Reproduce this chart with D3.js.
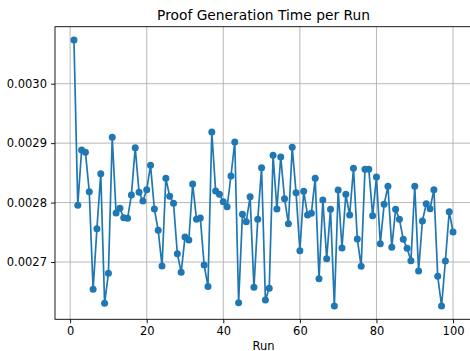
<!DOCTYPE html>
<html>
<head>
<meta charset="utf-8">
<script src="https://cdn.jsdelivr.net/npm/d3@7"></script>
<style>
  body { margin: 0; background: #fff; }
  svg { display: block; font-family: "DejaVu Sans", sans-serif; }
</style>
</head>
<body>
<div id="chart"></div>
<script>
// proof generation time (seconds) for runs 1..100
const runs = d3.range(1, 101);
const proofTimes = [
  0.0030735, 0.0027953, 0.0028884, 0.0028845, 0.0028183, 0.0026540, 0.0027561, 0.0028486, 0.0026305, 0.0026810,
  0.0029098, 0.0027824, 0.0027903, 0.0027746, 0.0027735, 0.0028127, 0.0028924, 0.0028172, 0.0028026, 0.0028217,
  0.0028626, 0.0027892, 0.0027533, 0.0026933, 0.0028408, 0.0028105, 0.0027987, 0.0027140, 0.0026826, 0.0027420,
  0.0027370, 0.0028312, 0.0027718, 0.0027740, 0.0026950, 0.0026590, 0.0029187, 0.0028195, 0.0028139, 0.0028015,
  0.0027931, 0.0028447, 0.0029019, 0.0026316, 0.0027802, 0.0027679, 0.0028099, 0.0026574, 0.0027718, 0.0028587,
  0.0026361, 0.0026557, 0.0028795, 0.0027892, 0.0028767, 0.0028066, 0.0027645, 0.0028929, 0.0028167, 0.0027191,
  0.0028189, 0.0027791, 0.0027819, 0.0028408, 0.0026720, 0.0028043, 0.0027056, 0.0027886, 0.0026260, 0.0028211,
  0.0027236, 0.0028139, 0.0027791, 0.0028576, 0.0027387, 0.0026927, 0.0028559, 0.0028559, 0.0027780, 0.0028430,
  0.0027308, 0.0027970, 0.0028273, 0.0027247, 0.0027886, 0.0027718, 0.0027381, 0.0027230, 0.0027022, 0.0028273,
  0.0026849, 0.0027690, 0.0027981, 0.0027897, 0.0028217, 0.0026759, 0.0026260, 0.0027017, 0.0027847, 0.0027505
];
const xTicks = [0, 20, 40, 60, 80, 100];
const yTicks = [0.0027, 0.0028, 0.0029, 0.0030];

const data = runs.map((r, i) => ({ run: r, t: proofTimes[i] }));

const width = 470, height = 351;
// plot box (right edge falls just outside the picture, like the reference)
const box = { left: 55, right: 472, top: 26.7, bottom: 319.3 };

const pad = (ext) => {
  const m = (ext[1] - ext[0]) * 0.05;
  return [ext[0] - m, ext[1] + m];
};

const x = d3.scaleLinear().domain(pad(d3.extent(runs))).range([box.left, box.right]);
const y = d3.scaleLinear().domain(pad(d3.extent(proofTimes))).range([box.bottom, box.top]);

const svg = d3.select('#chart').append('svg')
  .attr('width', width)
  .attr('height', height);

// grid
svg.append('g')
  .selectAll('line')
  .data(xTicks)
  .join('line')
  .attr('x1', d => x(d)).attr('x2', d => x(d))
  .attr('y1', box.top).attr('y2', box.bottom)
  .attr('stroke', '#b0b0b0').attr('stroke-width', 0.9);

svg.append('g')
  .selectAll('line')
  .data(yTicks)
  .join('line')
  .attr('x1', box.left).attr('x2', box.right)
  .attr('y1', d => y(d)).attr('y2', d => y(d))
  .attr('stroke', '#b0b0b0').attr('stroke-width', 0.9);

// line + markers
const valueLine = d3.line()
  .x(d => x(d.run))
  .y(d => y(d.t));

svg.append('path')
  .datum(data)
  .attr('fill', 'none')
  .attr('stroke', '#1f77b4')
  .attr('stroke-width', 1.7)
  .attr('stroke-linejoin', 'round')
  .attr('d', valueLine);

svg.append('g')
  .selectAll('circle')
  .data(data)
  .join('circle')
  .attr('cx', d => x(d.run))
  .attr('cy', d => y(d.t))
  .attr('r', 3.5)
  .attr('fill', '#1f77b4');

// spines
svg.append('rect')
  .attr('x', box.left).attr('y', box.top)
  .attr('width', box.right - box.left).attr('height', box.bottom - box.top)
  .attr('fill', 'none')
  .attr('stroke', '#000')
  .attr('stroke-width', 0.9);

// axes
const xAxis = svg.append('g')
  .attr('transform', `translate(0, ${box.bottom})`)
  .call(d3.axisBottom(x).tickValues(xTicks).tickSize(4).tickPadding(4).tickFormat(d3.format('d')));

const yAxis = svg.append('g')
  .attr('transform', `translate(${box.left}, 0)`)
  .call(d3.axisLeft(y).tickValues(yTicks).tickSize(4).tickPadding(4).tickFormat(d3.format('.4f')));

[xAxis, yAxis].forEach(a => {
  a.select('.domain').remove();
  a.selectAll('.tick line').attr('stroke', '#000').attr('stroke-width', 0.9);
  a.selectAll('.tick text')
    .attr('fill', '#000')
    .style('font-family', '"DejaVu Sans", sans-serif')
    .style('font-size', '11.5px');
});

// title and axis label
svg.append('text')
  .attr('x', (box.left + box.right) / 2)
  .attr('y', 19.8)
  .attr('text-anchor', 'middle')
  .style('font-size', '13.8px')
  .attr('fill', '#000')
  .text('Proof Generation Time per Run');

svg.append('text')
  .attr('x', (box.left + box.right) / 2)
  .attr('y', 349.5)
  .attr('text-anchor', 'middle')
  .style('font-size', '11.5px')
  .attr('fill', '#000')
  .text('Run');
</script>
</body>
</html>
